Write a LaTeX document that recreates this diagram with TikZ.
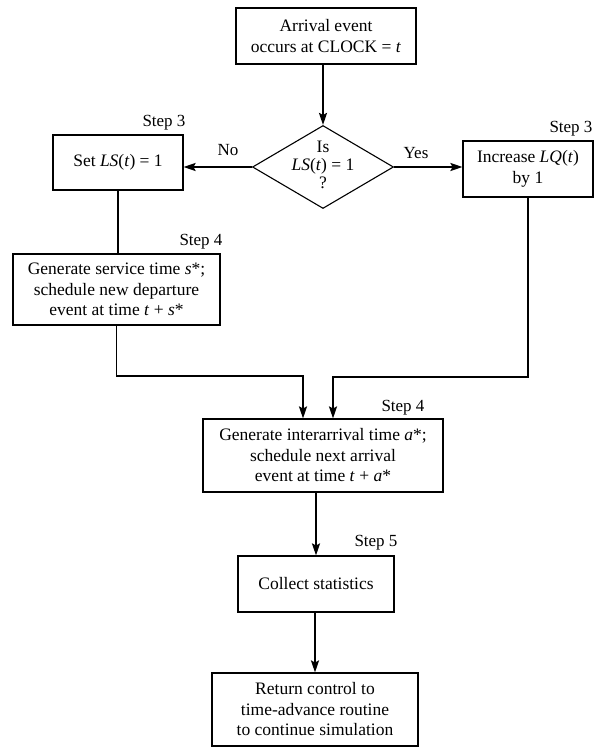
\documentclass[tikz,border=0pt]{standalone}
\usepackage{fontspec}
\setmainfont{Liberation Serif}
\usetikzlibrary{shapes.geometric,arrows.meta}
\newcommand{\iv}[1]{\textit{#1}}
\begin{document}
\begin{tikzpicture}[x=1pt,y=-1pt,
  box/.style={draw,line width=1.1pt,rectangle,inner sep=0pt,align=center,
    font=\fontsize{17.5}{20.5}\selectfont},
  lbl/.style={inner sep=0pt,font=\fontsize{17}{20}\selectfont},
  conn/.style={line width=1.8pt},
  arr/.style={conn,-{Stealth[length=12pt,width=8pt,inset=2pt]}}]
\useasboundingbox (0,0) rectangle (594,749);
% boxes
\node[box,minimum width=180pt,minimum height=56pt] (top) at (326,36)
  {Arrival event\\occurs at CLOCK = \iv{t}};
\node[draw,line width=1.1pt,diamond,minimum width=141pt,minimum height=83pt,inner sep=0pt] (d) at (323,167) {};
\node[inner sep=0pt,align=center,font=\fontsize{17.5}{18}\selectfont] (dt) at (323,165)
  {Is\\\iv{LS}(\iv{t}) = 1\\?};
\node[box,minimum width=130pt,minimum height=55pt] (setls) at (118,162.5)
  {Set \iv{LS}(\iv{t}) = 1};
\node[box,minimum width=130pt,minimum height=56pt] (inc) at (528,169)
  {Increase \iv{LQ}(\iv{t})\\by 1};
\node[box,minimum width=207pt,minimum height=71pt] (gens) at (116.5,289.5)
  {Generate service time \iv{s}*;\\schedule new departure\\event at time \iv{t} + \iv{s}*};
\node[box,minimum width=240pt,minimum height=73pt] (inter) at (323,455.5)
  {Generate interarrival time \iv{a}*;\\schedule next arrival\\event at time \iv{t} + \iv{a}*};
\node[box,minimum width=156pt,minimum height=56pt] (coll) at (316,584)
  {Collect statistics};
\node[box,minimum width=206pt,minimum height=73pt] (ret) at (315,709.5)
  {Return control to\\time-advance routine\\to continue simulation};
% labels
\node[lbl] (s3l) at (164,123) {Step 3};
\node[lbl] (no) at (228,150) {No};
\node[lbl] (yes) at (416,153) {Yes};
\node[lbl] (s3r) at (571,129) {Step 3};
\node[lbl] (s4l) at (201,242) {Step 4};
\node[lbl] (s4m) at (403,408) {Step 4};
\node[lbl] (s5) at (376,543) {Step 5};
% junction coordinates
\coordinate (j1) at (303,376);
\coordinate (j2) at (333,377);
% connectors
\draw[arr] (d.north |- top.south) -- (d.north);
\draw[arr] (d.west) -- (d.west -| setls.east);
\draw[arr] (d.east) -- (d.east -| inc.west);
\draw[conn] (setls.south) -- (setls.south |- gens.north);
\draw[arr] (gens.south) |- (j1) -- (j1 |- inter.north);
\draw[arr] (inc.south) |- (j2) -- (j2 |- inter.north);
\draw[arr] (coll.north |- inter.south) -- (coll.north);
\draw[arr] (ret.north |- coll.south) -- (ret.north);
\end{tikzpicture}
\end{document}
